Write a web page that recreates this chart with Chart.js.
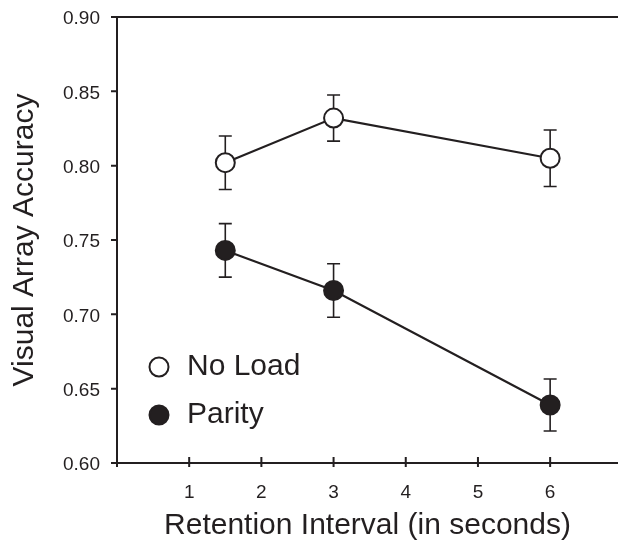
<!DOCTYPE html>
<html>
<head>
<meta charset="utf-8">
<script src="https://cdn.jsdelivr.net/npm/chart.js@4"></script>
<style>
  html, body { margin: 0; padding: 0; background: #fff; }
</style>
</head>
<body>
<canvas id="chart" width="618" height="540"></canvas>
<script>
// Valores
const intervals = [1.5, 3, 6];
const noLoad = [0.802, 0.832, 0.805];
const noLoadErr = [0.018, 0.0155, 0.019];
const parity = [0.743, 0.716, 0.639];
const parityErr = [0.018, 0.018, 0.0175];
const xTicks = [1, 2, 3, 4, 5, 6];
const yTicks = [0.60, 0.65, 0.70, 0.75, 0.80, 0.85, 0.90];

const ink = '#231f20';
const family = '"Liberation Sans", Arial, sans-serif';

// Barras de erro desenhadas antes dos pontos
const errorBars = {
  id: 'errorBars',
  beforeDatasetsDraw(chart) {
    const ctx = chart.ctx;
    const xs = chart.scales.x;
    const ys = chart.scales.y;
    const sets = [[noLoad, noLoadErr], [parity, parityErr]];
    ctx.save();
    ctx.strokeStyle = ink;
    ctx.lineWidth = 1.6;
    sets.forEach(([vals, errs]) => {
      vals.forEach((v, i) => {
        const x = xs.getPixelForValue(intervals[i]);
        const yt = ys.getPixelForValue(v + errs[i]);
        const yb = ys.getPixelForValue(v - errs[i]);
        ctx.beginPath();
        ctx.moveTo(x, yt); ctx.lineTo(x, yb);
        ctx.moveTo(x - 6.5, yt); ctx.lineTo(x + 6.5, yt);
        ctx.moveTo(x - 6.5, yb); ctx.lineTo(x + 6.5, yb);
        ctx.stroke();
      });
    });
    ctx.restore();
  }
};

// Moldura superior, marcas dos eixos e legenda
const frame = {
  id: 'frame',
  afterDraw(chart) {
    const ctx = chart.ctx;
    const { left, right, top, bottom } = chart.chartArea;
    const xs = chart.scales.x;
    const ys = chart.scales.y;
    ctx.save();
    ctx.strokeStyle = ink;
    ctx.lineWidth = 2;
    ctx.beginPath();
    ctx.moveTo(left - 1, top); ctx.lineTo(right, top);
    yTicks.forEach(v => {
      const y = ys.getPixelForValue(v);
      ctx.moveTo(left - 6, y); ctx.lineTo(left, y);
    });
    xTicks.forEach(v => {
      const x = xs.getPixelForValue(v);
      ctx.moveTo(x, bottom - 6); ctx.lineTo(x, bottom + 4);
    });
    ctx.moveTo(left, bottom); ctx.lineTo(left, bottom + 4);
    ctx.stroke();

    // legenda
    const items = [['No Load', '#ffffff', bottom - 96], ['Parity', ink, bottom - 48]];
    ctx.font = '30px ' + family;
    ctx.textBaseline = 'middle';
    ctx.textAlign = 'left';
    items.forEach(([label, fill, y]) => {
      ctx.beginPath();
      ctx.arc(left + 42, y, 9.5, 0, Math.PI * 2);
      ctx.fillStyle = fill;
      ctx.fill();
      ctx.lineWidth = 2;
      ctx.stroke();
      ctx.fillStyle = ink;
      ctx.fillText(label, left + 70, y);
    });
    ctx.restore();
  }
};

const toPoints = vals => vals.map((v, i) => ({ x: intervals[i], y: v }));

new Chart(document.getElementById('chart'), {
  type: 'line',
  data: {
    datasets: [
      {
        label: 'No Load',
        data: toPoints(noLoad),
        borderColor: ink,
        borderWidth: 2.2,
        pointRadius: 9.5,
        pointBorderWidth: 2,
        pointBackgroundColor: '#ffffff',
        pointBorderColor: ink
      },
      {
        label: 'Parity',
        data: toPoints(parity),
        borderColor: ink,
        borderWidth: 2.2,
        pointRadius: 9.5,
        pointBorderWidth: 2,
        pointBackgroundColor: ink,
        pointBorderColor: ink
      }
    ]
  },
  options: {
    responsive: false,
    animation: false,
    layout: { autoPadding: false, padding: { top: 17, left: 0, right: 0, bottom: 0 } },
    plugins: {
      legend: { display: false },
      tooltip: { enabled: false }
    },
    scales: {
      x: {
        type: 'linear',
        min: 0,
        max: 6.94,
        afterBuildTicks: s => { s.ticks = xTicks.map(v => ({ value: v })); },
        afterFit: s => {
          s.height = 77;
          s.paddingLeft = 0; s.paddingRight = 0;
        },
        grid: { display: false, drawTicks: false },
        border: { display: true, color: ink, width: 2 },
        ticks: {
          color: ink,
          font: { family, size: 19 },
          padding: 18,
          maxRotation: 0,
          autoSkip: false
        },
        title: {
          display: true,
          text: 'Retention Interval (in seconds)',
          color: ink,
          font: { family, size: 30 },
          padding: { top: 0, bottom: -4 }
        }
      },
      y: {
        min: 0.60,
        max: 0.90,
        afterBuildTicks: s => { s.ticks = yTicks.map(v => ({ value: v })); },
        afterFit: s => {
          s.width = 117;
          s.paddingTop = 0; s.paddingBottom = 0;
        },
        grid: { display: false, drawTicks: false },
        border: { display: true, color: ink, width: 2 },
        ticks: {
          color: ink,
          font: { family, size: 19 },
          padding: 17,
          labelOffset: 2,
          callback: v => v.toFixed(2)
        },
        title: {
          display: true,
          text: 'Visual Array Accuracy',
          color: ink,
          font: { family, size: 30 },
          padding: { top: 7, bottom: 0 }
        }
      }
    }
  },
  plugins: [errorBars, frame]
});
</script>
</body>
</html>
